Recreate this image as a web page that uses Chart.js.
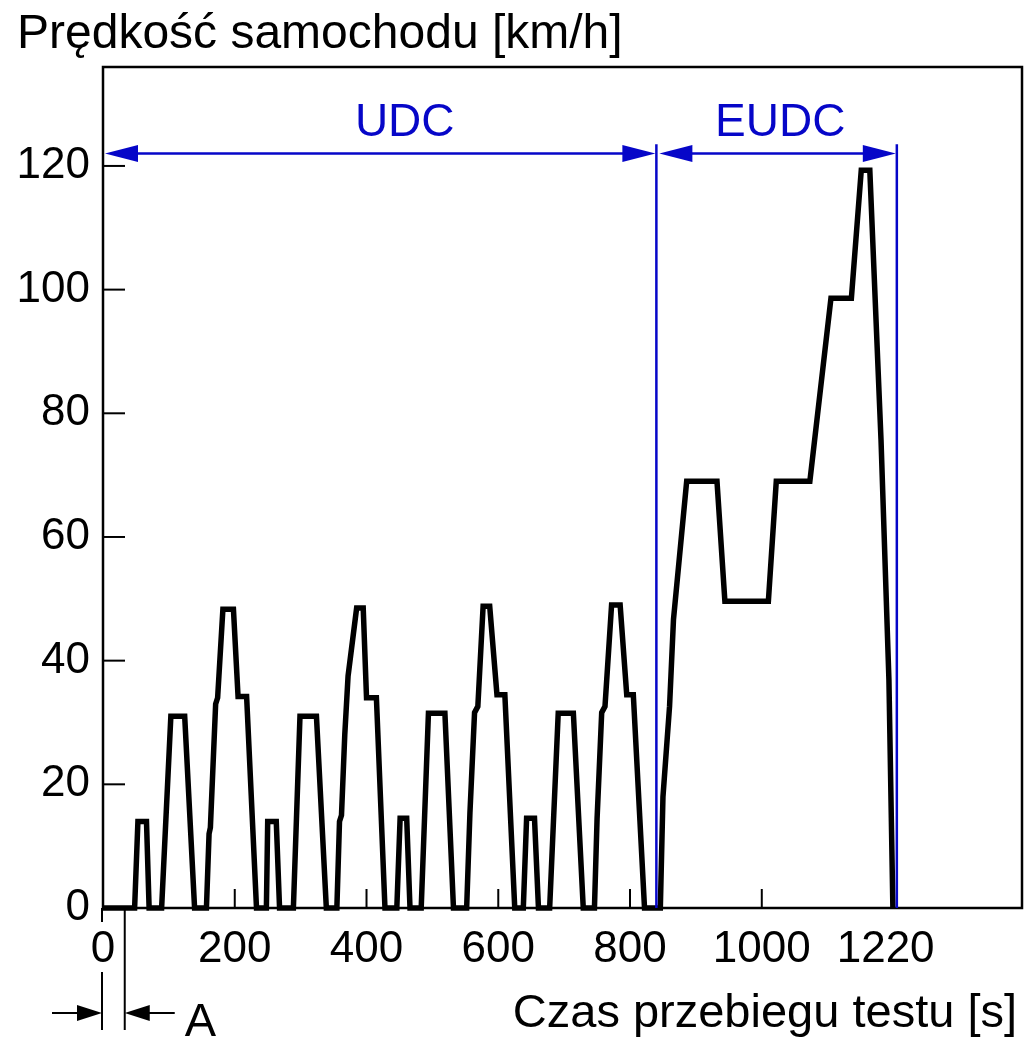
<!DOCTYPE html>
<html lang="pl">

<head>
    <meta charset="UTF-8">
    <title>Prędkość samochodu - cykl NEDC</title>
    <script src="https://cdn.jsdelivr.net/npm/chart.js"></script>
    <style>
        body {
            margin: 0;
            background: #ffffff;
        }

        canvas {
            display: block;
        }
    </style>
</head>

<body>
    <canvas id="myCanvas" width="1028" height="1038"></canvas>

<script>
    // czas [s] i prędkość [km/h]
    let czas = [
        0, 48, 53, 66, 70, 89, 103, 124, 139,
        157, 161, 163, 171, 174, 182, 198, 205, 218, 233,
        248, 250, 263, 268, 289, 299, 324, 339,
        355, 359, 362, 367, 372, 385, 395, 400, 415, 428,
        446, 451, 461, 466, 483, 494, 519, 532,
        552, 557, 564, 569, 577, 587, 598, 610, 625,
        638, 643, 655, 661, 678, 691, 714, 729,
        746, 750, 757, 762, 772, 785, 795, 805, 822,
        846, 850, 860, 866, 886, 932, 944, 1010, 1022, 1073, 1105, 1136, 1151, 1164, 1181, 1193, 1199
    ];
    let predkosc = [
        0, 0, 14, 14, 0, 0, 31, 31, 0,
        0, 12, 13, 33, 34, 48.3, 48.3, 34.2, 34.2, 0,
        0, 14, 14, 0, 0, 31, 31, 0,
        0, 14, 15, 28, 37.5, 48.5, 48.5, 34, 34, 0,
        0, 14.5, 14.5, 0, 0, 31.5, 31.5, 0,
        0, 15.4, 31.6, 32.6, 48.8, 48.8, 34.5, 34.5, 0,
        0, 14.5, 14.5, 0, 0, 31.5, 31.5, 0,
        0, 14.5, 31.6, 32.6, 49, 49, 34.5, 34.5, 0,
        0, 18, 32.6, 46.7, 69, 69, 49.6, 49.6, 69, 69, 98.6, 98.6, 119.3, 119.3, 75.7, 36.9, 0
    ];

    let ticksX = [0, 200, 400, 600, 800, 1000, 1188];
    let etykietyX = ["0", "200", "400", "600", "800", "1000", "1220"];
    let ticksY = [0, 20, 40, 60, 80, 100, 120];

    // granice faz UDC / EUDC i odcinek A [s]
    let granice = [0, 840, 1205];
    let fazy = ["UDC", "EUDC"];
    let srodkiFaz = [458, 1028];
    let odcinekA = [0, 33];

    const NIEBIESKI = "#0606c8";
    const FONT = "'Liberation Sans', Arial, sans-serif";

    function linia(ctx, x1, y1, x2, y2) {
        ctx.beginPath();
        ctx.moveTo(x1, y1);
        ctx.lineTo(x2, y2);
        ctx.stroke();
    }

    // grot strzałki, ostrze w (x, y), kierunek: 1 w prawo, -1 w lewo
    function grot(ctx, x, y, kierunek, dl, pol) {
        ctx.beginPath();
        ctx.moveTo(x, y);
        ctx.lineTo(x - kierunek * dl, y - pol);
        ctx.lineTo(x - kierunek * dl, y + pol);
        ctx.closePath();
        ctx.fill();
    }

    const rysunek = {
        id: "rysunek",
        afterDatasetsDraw(chart) {
            const ctx = chart.ctx;
            const sx = chart.scales.x;
            const sy = chart.scales.y;
            const a = chart.chartArea;

            ctx.save();

            // ramka
            ctx.strokeStyle = "#000";
            ctx.lineWidth = 2.5;
            ctx.strokeRect(a.left, a.top, a.right - a.left, a.bottom - a.top);

            // znaczniki do środka
            ctx.lineWidth = 2;
            for (let i = 1; i < ticksX.length - 1; i++) {
                let px = sx.getPixelForValue(ticksX[i]);
                linia(ctx, px, a.bottom, px, a.bottom - 19);
            }
            for (let i = 1; i < ticksY.length; i++) {
                let py = sy.getPixelForValue(ticksY[i]);
                linia(ctx, a.left, py, a.left + 22, py);
            }
            linia(ctx, a.left - 1, a.bottom, a.left - 1, a.bottom + 14);

            // fazy UDC / EUDC
            ctx.strokeStyle = NIEBIESKI;
            ctx.fillStyle = NIEBIESKI;
            ctx.lineWidth = 2.5;
            let yStrz = sy.getPixelForValue(122);
            let yGora = sy.getPixelForValue(123.5);
            for (let i = 1; i < granice.length; i++) {
                let px = sx.getPixelForValue(granice[i]);
                linia(ctx, px, yGora, px, a.bottom);
            }
            for (let i = 0; i < fazy.length; i++) {
                let x1 = sx.getPixelForValue(granice[i]) + (i === 0 ? 2 : 3);
                let x2 = sx.getPixelForValue(granice[i + 1]) - 1;
                linia(ctx, x1 + 20, yStrz, x2 - 20, yStrz);
                grot(ctx, x1, yStrz, -1, 33, 8.5);
                grot(ctx, x2, yStrz, 1, 33, 8.5);

                ctx.font = "46px " + FONT;
                ctx.textAlign = "center";
                ctx.textBaseline = "alphabetic";
                ctx.fillText(fazy[i], sx.getPixelForValue(srodkiFaz[i]), sy.getPixelForValue(124.8));
            }

            // odcinek A
            ctx.strokeStyle = "#000";
            ctx.fillStyle = "#000";
            ctx.lineWidth = 2;
            let xa0 = sx.getPixelForValue(odcinekA[0]) - 1;
            let xa1 = sx.getPixelForValue(odcinekA[1]);
            let yA = a.bottom + 105;
            linia(ctx, xa0, a.bottom + 64, xa0, a.bottom + 122);
            linia(ctx, xa1, a.bottom, xa1, a.bottom + 122);
            linia(ctx, xa0 - 50, yA, xa0 - 20, yA);
            grot(ctx, xa0, yA, 1, 25, 8);
            linia(ctx, xa1 + 20, yA, xa1 + 50, yA);
            grot(ctx, xa1, yA, -1, 25, 8);

            ctx.font = "47px " + FONT;
            ctx.textAlign = "left";
            ctx.textBaseline = "alphabetic";
            ctx.fillText("A", xa1 + 60, a.bottom + 128);

            // opisy osi
            ctx.font = "48px " + FONT;
            ctx.fillText("Prędkość samochodu [km/h]", 17, 48);
            ctx.font = "47px " + FONT;
            ctx.textAlign = "right";
            ctx.fillText("Czas przebiegu testu [s]", a.right - 5, a.bottom + 119);

            ctx.restore();
        }
    };

    let punkty = [];
    for (let i = 0; i < czas.length; i++) {
        punkty.push({ x: czas[i], y: predkosc[i] });
    }

    const config = {
        type: "line",
        data: {
            datasets: [
                {
                    label: "Prędkość",
                    data: punkty,
                    borderColor: "#000000",
                    borderWidth: 5.5,
                    borderJoinStyle: "miter",
                    pointRadius: 0,
                    tension: 0,
                    fill: false,
                    clip: false,
                },
            ],
        },
        options: {
            responsive: false,
            animation: false,
            devicePixelRatio: 1,
            layout: {
                padding: { left: 0, right: 6, top: 67, bottom: 0 },
            },
            scales: {
                x: {
                    type: "linear",
                    min: 0,
                    max: 1395,
                    afterBuildTicks: function (scale) {
                        scale.ticks = ticksX.map(function (v) { return { value: v }; });
                    },
                    afterFit: function (scale) {
                        scale.height = 130;
                    },
                    grid: { display: false, drawTicks: false },
                    border: { display: false },
                    ticks: {
                        padding: 15,
                        color: "#000",
                        maxRotation: 0,
                        autoSkip: false,
                        font: { family: FONT, size: 44 },
                        callback: function (value) {
                            let i = ticksX.indexOf(value);
                            return i >= 0 ? etykietyX[i] : "";
                        },
                    },
                },
                y: {
                    min: 0,
                    max: 136,
                    afterBuildTicks: function (scale) {
                        scale.ticks = ticksY.map(function (v) { return { value: v }; });
                    },
                    afterFit: function (scale) {
                        scale.width = 103;
                    },
                    grid: { display: false, drawTicks: false },
                    border: { display: false },
                    ticks: {
                        padding: 13,
                        color: "#000",
                        font: { family: FONT, size: 44 },
                    },
                },
            },
            plugins: {
                legend: { display: false },
                tooltip: { enabled: false },
            },
        },
        plugins: [rysunek],
    };

    let myChart = new Chart(document.getElementById("myCanvas"), config);
</script>
</body>

</html>
